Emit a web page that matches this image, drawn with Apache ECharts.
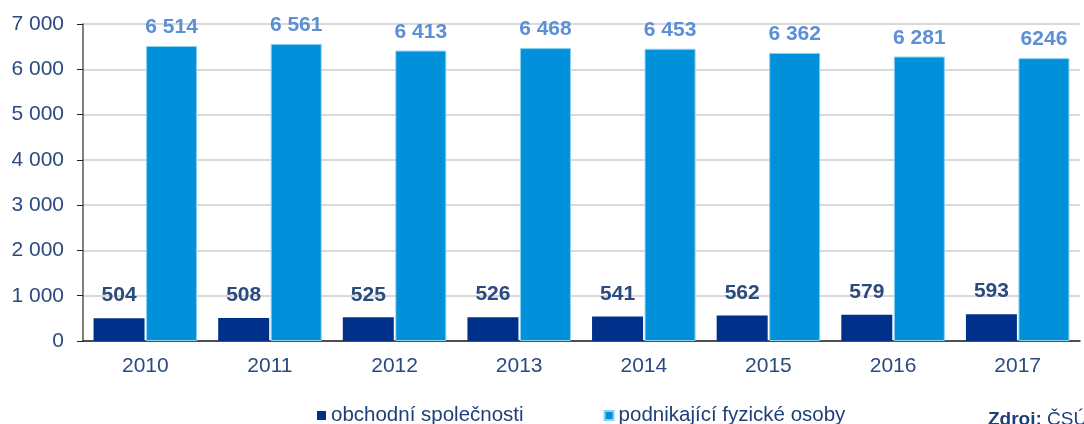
<!DOCTYPE html>
<html>
<head>
<meta charset="utf-8">
<script src="https://cdn.jsdelivr.net/npm/echarts@6/dist/echarts.min.js"></script>
<style>
html, body { margin: 0; padding: 0; background: #fff; }
#chart { width: 1084px; height: 424px; }
</style>
</head>
<body>
<div id="chart"></div>
<script>
var years = ['2010', '2011', '2012', '2013', '2014', '2015', '2016', '2017'];
var obchodni = [504, 508, 525, 526, 541, 562, 579, 593];
var fyzicke = [6514, 6561, 6413, 6468, 6453, 6362, 6281, 6246];
// popisky nad modrými sloupci (poslední je v originále bez mezery)
var fyzickeLabels = ['6 514', '6 561', '6 413', '6 468', '6 453', '6 362', '6 281', '6246'];

function fmt(v) {
	return String(v).replace(/\B(?=(\d{3})+(?!\d))/g, ' ');
}

var myChart = echarts.init(document.getElementById('chart'));
var option = {
	animation : false,
	textStyle : {
		fontFamily : 'Liberation Sans, Arial, sans-serif'
	},
	grid : {
		left : 83,
		right : 4,
		top : 24,
		bottom : 83
	},
	legend : {
		top : 400,
		left : 312,
		itemWidth : 9,
		itemHeight : 9,
		itemGap : 80,
		icon : 'rect',
		textStyle : {
			color : '#1f3f78',
			fontSize : 20.5
		},
		data : [ 'obchodní společnosti', 'podnikající fyzické osoby' ]
	},
	xAxis : {
		type : 'category',
		data : years,
		axisLine : {
			lineStyle : {
				color : '#222',
				width : 1.5
			}
		},
		axisTick : {
			length : 7,
			lineStyle : {
				color : '#222'
			}
		},
		axisLabel : {
			color : '#2b4a7e',
			fontSize : 21,
			margin : 15
		}
	},
	yAxis : {
		type : 'value',
		min : 0,
		max : 7000,
		interval : 1000,
		axisLine : {
			show : true,
			lineStyle : {
				color : '#555',
				width : 1.5
			}
		},
		axisTick : {
			show : true,
			length : 6,
			lineStyle : {
				color : '#222'
			}
		},
		splitLine : {
			lineStyle : {
				color : '#d9d9d9',
				width : 2
			}
		},
		axisLabel : {
			color : '#2b4a7e',
			fontSize : 21,
			margin : 19,
			formatter : fmt
		}
	},
	series : [ {
		name : 'obchodní společnosti',
		type : 'bar',
		data : obchodni,
		barWidth : 51,
		barGap : '3%',
		itemStyle : {
			color : '#00308a'
		},
		label : {
			show : true,
			position : 'top',
			distance : 12,
			color : '#2b4a7e',
			fontWeight : 'bold',
			fontSize : 21
		}
	}, {
		name : 'podnikající fyzické osoby',
		type : 'bar',
		data : fyzicke,
		barWidth : 51,
		itemStyle : {
			color : '#0091da',
			borderColor : '#8cd0f2',
			borderWidth : 1
		},
		label : {
			show : true,
			position : 'top',
			distance : 8,
			color : '#5b8fd6',
			fontWeight : 'bold',
			fontSize : 21,
			formatter : function(params) {
				return fyzickeLabels[params.dataIndex];
			}
		}
	} ],
	graphic : [ {
		type : 'text',
		left : 988,
		top : 410,
		style : {
			text : '{b|Zdroj:} ČSÚ',
			fill : '#1f3f78',
			fontSize : 19,
			fontFamily : 'Liberation Sans, Arial, sans-serif',
			rich : {
				b : {
					fontWeight : 'bold',
					fontSize : 19,
					fill : '#1f3f78'
				}
			}
		}
	} ]
};
myChart.setOption(option);
</script>
</body>
</html>
